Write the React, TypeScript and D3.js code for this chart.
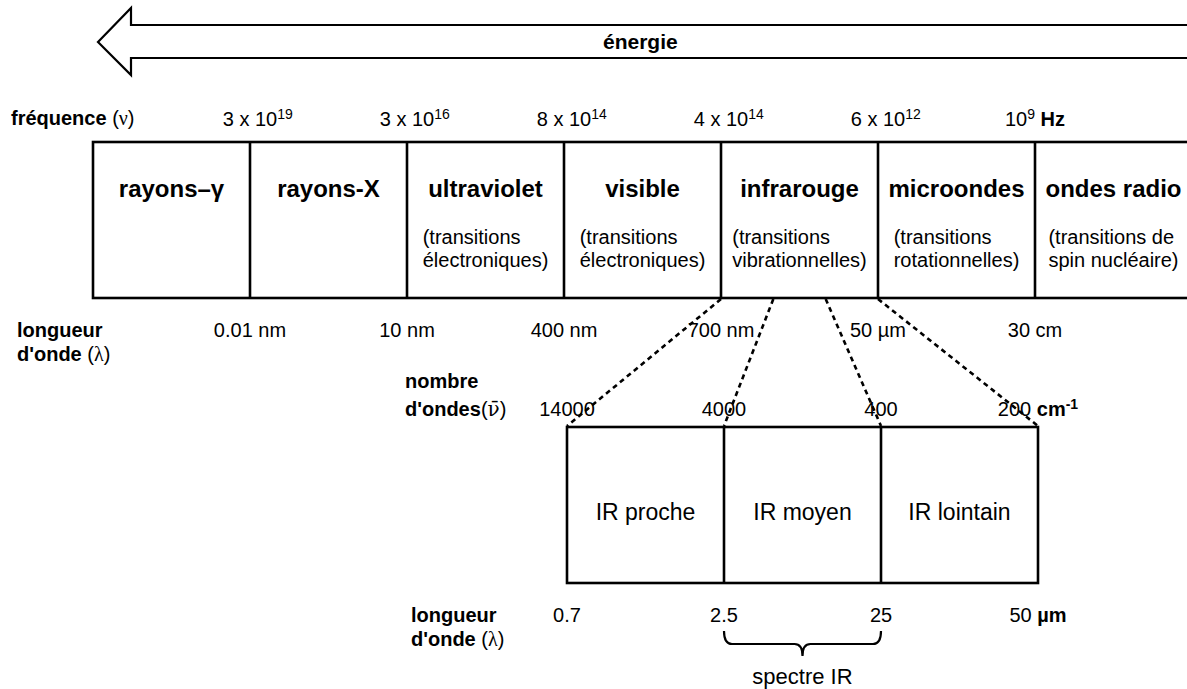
import React, { useEffect, useRef } from "react";
import * as d3 from "d3";

const W = 1187;
const H = 689;

// ---- data ----
const bands = ["rayons–γ", "rayons-X", "ultraviolet", "visible", "infrarouge", "microondes", "ondes radio"];
const bandNotes: string[][] = [
  [],
  [],
  ["(transitions", "électroniques)"],
  ["(transitions", "électroniques)"],
  ["(transitions", "vibrationnelles)"],
  ["(transitions", "rotationnelles)"],
  ["(transitions de", "spin nucléaire)"],
];
const freqMantissas = ["3 x 10", "3 x 10", "8 x 10", "4 x 10", "6 x 10", "10"];
const freqExponents = ["19", "16", "14", "14", "12", "9"];
const freqUnit = "Hz";
const wavelengths = ["0.01 nm", "10 nm", "400 nm", "700 nm", "50 µm", "30 cm"];
const irRegions = ["IR proche", "IR moyen", "IR lointain"];
const wavenumbers = ["14000", "4000", "400", "200"];
const wavenumberUnit = "cm";
const wavenumberUnitExp = "-1";
const irWavelengths = ["0.7", "2.5", "25", "50"];
const irWavelengthUnit = "µm";
const irBand = "infrarouge";
const spectrumRange = ["2.5", "25"];

type Part = { t: string; bold?: boolean; serif?: boolean; sup?: boolean; font?: string };

export default function App() {
  const ref = useRef<SVGSVGElement>(null);

  useEffect(() => {
    const svg = d3.select(ref.current as SVGSVGElement);
    svg.selectAll("*").remove();
    const SANS = "'Liberation Sans', Arial, Helvetica, sans-serif";
    const SERIF = "'Liberation Serif', 'Times New Roman', serif";

    const xMain = d3.scaleLinear().domain([0, bands.length]).range([93, 1192]);
    const xIR = d3.scaleLinear().domain([0, irRegions.length]).range([567, 1038]);

    const mainTop = 142, mainBottom = 298;
    const irTop = 427, irBottom = 583;

    const text = (
      x: number,
      y: number,
      parts: Part[],
      size: number,
      opts: { anchor?: string; center?: "all" | "first" } = {}
    ) => {
      const el = svg
        .append("text")
        .attr("x", x)
        .attr("y", y)
        .attr("font-family", SANS)
        .attr("font-size", size)
        .attr("fill", "#000")
        .style("white-space", "pre");
      if (opts.anchor) el.attr("text-anchor", opts.anchor);
      let raised = false;
      const supDy = size * 0.36;
      parts.forEach((p) => {
        const ts = el.append("tspan").text(p.t);
        if (p.bold) ts.attr("font-weight", "bold");
        if (p.serif) ts.attr("font-family", SERIF);
        if (p.font) ts.attr("font-family", p.font);
        if (p.sup) {
          ts.attr("font-size", size * 0.7).attr("dy", -supDy);
          raised = true;
        } else if (raised) {
          ts.attr("dy", supDy);
          raised = false;
        }
      });
      if (opts.center) {
        const node = el.node() as SVGTextElement;
        const w =
          opts.center === "first"
            ? (el.select("tspan").node() as SVGTextContentElement).getComputedTextLength()
            : node.getComputedTextLength();
        el.attr("x", x - w / 2);
      }
      return el;
    };

    // ---- energy arrow ----
    const ap = d3.path();
    ap.moveTo(98, 42);
    ap.lineTo(131, 8);
    ap.lineTo(131, 25);
    ap.lineTo(W + 10, 25);
    ap.lineTo(W + 10, 58);
    ap.lineTo(131, 58);
    ap.lineTo(131, 75);
    ap.closePath();
    svg.append("path").attr("d", ap.toString()).attr("fill", "#fff").attr("stroke", "#000").attr("stroke-width", 2.2).attr("stroke-linejoin", "miter");
    text(603, 49, [{ t: "énergie", bold: true }], 21);

    // ---- main spectrum box ----
    svg
      .append("rect")
      .attr("x", xMain(0))
      .attr("y", mainTop)
      .attr("width", xMain(bands.length) - xMain(0))
      .attr("height", mainBottom - mainTop)
      .attr("fill", "none")
      .attr("stroke", "#000")
      .attr("stroke-width", 2.6);
    d3.range(1, bands.length).forEach((i) => {
      svg.append("line").attr("x1", xMain(i)).attr("x2", xMain(i)).attr("y1", mainTop).attr("y2", mainBottom).attr("stroke", "#000").attr("stroke-width", 2.6);
    });

    bands.forEach((b, i) => {
      const cx = (xMain(i) + xMain(i + 1)) / 2;
      text(cx, 197, [{ t: b, bold: true }], 24, { anchor: "middle" });
      const notes = bandNotes[i];
      if (notes.length) {
        const els = notes.map((n, j) => text(cx, 244 + j * 23, [{ t: n }], 20));
        const maxW = d3.max(els, (e) => (e.node() as SVGTextElement).getComputedTextLength()) || 0;
        els.forEach((e) => e.attr("x", cx - maxW / 2));
      }
    });

    // ---- frequency row ----
    text(11, 125, [{ t: "fréquence", bold: true }, { t: " (" }, { t: "ν", serif: true }, { t: ")" }], 20);
    freqMantissas.forEach((m, i) => {
      const last = i === freqMantissas.length - 1;
      const parts: Part[] = [{ t: m }, { t: freqExponents[i], sup: true }];
      if (last) parts.push({ t: " " + freqUnit, bold: true });
      text(xMain(i + 1), 126, parts, 20, { center: last ? "all" : "first" });
    });

    // ---- wavelength row ----
    text(17, 337, [{ t: "longueur", bold: true }], 20);
    text(17, 361, [{ t: "d'onde", bold: true }, { t: " (" }, { t: "λ", serif: true }, { t: ")" }], 20);
    wavelengths.forEach((w, i) => {
      text(xMain(i + 1), 337, [{ t: w }], 20, { anchor: "middle" });
    });

    // ---- dashed zoom connectors ----
    const irIdx = bands.indexOf(irBand);
    d3.range(0, irRegions.length + 1).forEach((k) => {
      const x0 = xMain(irIdx + k / irRegions.length);
      const x1 = xIR(k);
      svg
        .append("line")
        .attr("x1", x0)
        .attr("y1", mainBottom + 1)
        .attr("x2", x1)
        .attr("y2", irTop - 1)
        .attr("stroke", "#000")
        .attr("stroke-width", 2.6)
        .attr("stroke-dasharray", "5,4");
    });

    // ---- wavenumber row ----
    text(405, 388, [{ t: "nombre", bold: true }], 20);
    text(405, 416, [{ t: "d'ondes", bold: true }, { t: "(" }, { t: "ν\u0304", font: "'DejaVu Serif', serif" }, { t: ")" }], 20);
    wavenumbers.forEach((n, k) => {
      const last = k === wavenumbers.length - 1;
      if (last) {
        text(xIR(k), 416, [{ t: n + " " }, { t: wavenumberUnit, bold: true }, { t: wavenumberUnitExp, sup: true, bold: true }], 20, { center: "all" });
      } else {
        text(xIR(k), 416, [{ t: n }], 20, { anchor: "middle" });
      }
    });

    // ---- IR box ----
    svg
      .append("rect")
      .attr("x", xIR(0))
      .attr("y", irTop)
      .attr("width", xIR(irRegions.length) - xIR(0))
      .attr("height", irBottom - irTop)
      .attr("fill", "none")
      .attr("stroke", "#000")
      .attr("stroke-width", 2.6);
    d3.range(1, irRegions.length).forEach((k) => {
      svg.append("line").attr("x1", xIR(k)).attr("x2", xIR(k)).attr("y1", irTop).attr("y2", irBottom).attr("stroke", "#000").attr("stroke-width", 2.6);
    });
    irRegions.forEach((r, k) => {
      const cx = (xIR(k) + xIR(k + 1)) / 2;
      text(cx, 520, [{ t: r }], 23, { anchor: "middle" });
    });

    // ---- IR wavelength row ----
    text(411, 622, [{ t: "longueur", bold: true }], 20);
    text(411, 646, [{ t: "d'onde", bold: true }, { t: " (" }, { t: "λ", serif: true }, { t: ")" }], 20);
    irWavelengths.forEach((w, k) => {
      const last = k === irWavelengths.length - 1;
      if (last) {
        text(xIR(k), 622, [{ t: w + " " }, { t: irWavelengthUnit, bold: true }], 20, { center: "all" });
      } else {
        text(xIR(k), 622, [{ t: w }], 20, { anchor: "middle" });
      }
    });

    // ---- brace for IR spectrum ----
    const bx0 = xIR(irWavelengths.indexOf(spectrumRange[0]));
    const bx1 = xIR(irWavelengths.indexOf(spectrumRange[1]));
    const bm = (bx0 + bx1) / 2;
    const yT = 631, yM = 644, yTip = 656, r = 8;
    const bp = d3.path();
    bp.moveTo(bx0, yT);
    bp.quadraticCurveTo(bx0, yM, bx0 + r, yM);
    bp.lineTo(bm - r, yM);
    bp.quadraticCurveTo(bm, yM, bm, yTip);
    bp.quadraticCurveTo(bm, yM, bm + r, yM);
    bp.lineTo(bx1 - r, yM);
    bp.quadraticCurveTo(bx1, yM, bx1, yT);
    svg.append("path").attr("d", bp.toString()).attr("fill", "none").attr("stroke", "#000").attr("stroke-width", 2.2);
    text(bm, 684, [{ t: "spectre IR" }], 22, { anchor: "middle" });
  }, []);

  return (
    <svg
      ref={ref}
      width={W}
      height={H}
      viewBox={`0 0 ${W} ${H}`}
      style={{ position: "absolute", left: 0, top: 0, background: "#fff", overflow: "hidden" }}
    />
  );
}
